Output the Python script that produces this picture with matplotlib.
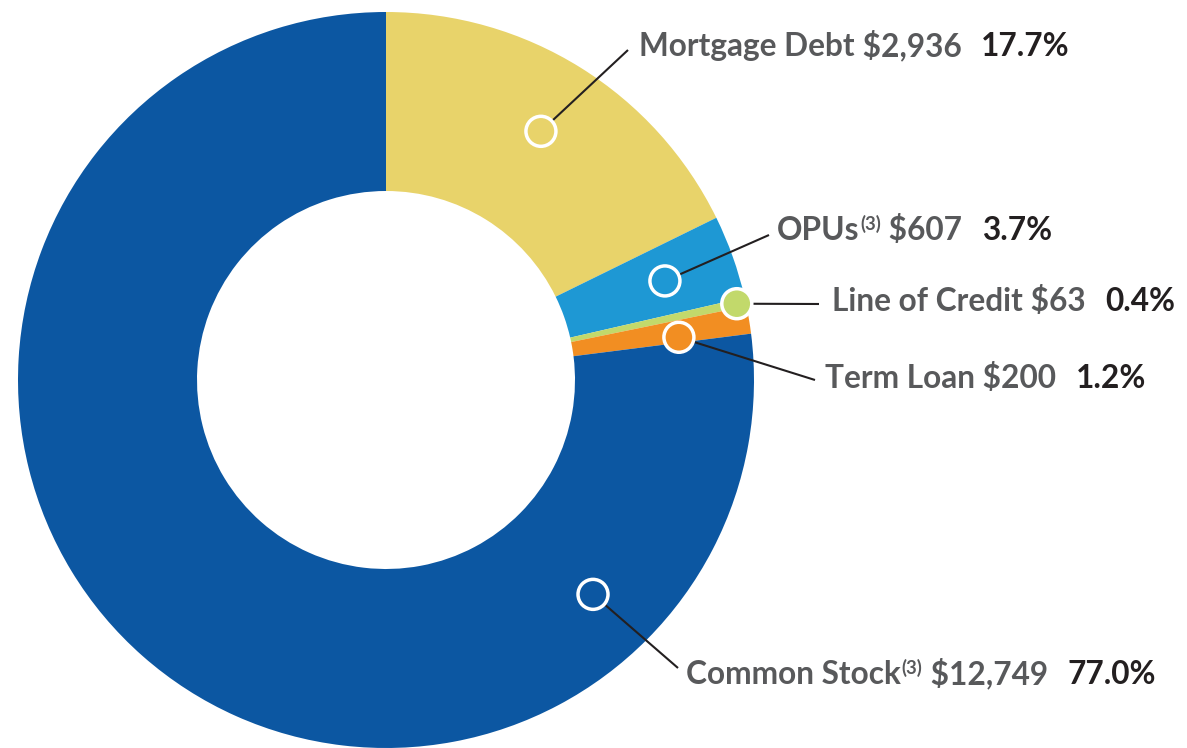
import numpy as np
import matplotlib
matplotlib.use("Agg")
import matplotlib.pyplot as plt
from matplotlib.patches import Circle

# ---- data ----
names = ["Mortgage Debt", "OPUs", "Line of Credit", "Term Loan", "Common Stock"]
sups = ["", "(3)", "", "", "(3)"]
amount_labels = ["$2,936", "$607", "$63", "$200", "$12,749"]
values = [2936, 607, 63, 200, 12749]
pct_labels = ["17.7%", "3.7%", "0.4%", "1.2%", "77.0%"]
colors = ["#E8D36A", "#1E98D4", "#C2D96B", "#F28E22", "#0C57A2"]

# ---- layout (pixel coordinates, y from top) ----
W, H = 1187, 748
CX, CY, R_OUT, R_IN = 386, 380, 368, 189
marker_r = [293, 296, 359, 296, 298]
marker_angle_override = [None, None, None, 8.3, -46.0]
line_ends = [(628, 50), (769, 235), (819, 304), (815, 380), (678, 668)]
text_x = [639, 777, 832, 825, 686]
text_base = [56, 240, 311, 388, 684]

GRAY = "#58595B"
DARK = "#231F20"
FAM = ["Lato", "DejaVu Sans"]
FS = 22.8

fig = plt.figure(figsize=(W / 100, H / 100), dpi=100)
ax = fig.add_axes([0, 0, 1, 1])

def Y(yp):
    return H - yp

wedges, _ = ax.pie(values, colors=colors, radius=R_OUT, center=(CX, Y(CY)),
                   startangle=90, counterclock=False,
                   wedgeprops=dict(width=R_OUT - R_IN, linewidth=0))
ax.set_xlim(0, W)
ax.set_ylim(0, H)
ax.set_aspect("equal")
ax.axis("off")

total = float(sum(values))
cum = np.cumsum([0] + values[:-1]) / total
mids = 90 - 360 * (cum + np.array(values) / total / 2)

for i in range(len(values)):
    ang = marker_angle_override[i] if marker_angle_override[i] is not None else mids[i]
    mx = CX + marker_r[i] * np.cos(np.radians(ang))
    my = Y(CY) + marker_r[i] * np.sin(np.radians(ang))
    ex, ey = line_ends[i]
    ax.plot([mx, ex], [my, Y(ey)], color=DARK, lw=1.5, solid_capstyle="butt", zorder=3)
    ax.add_patch(Circle((mx, my), 15, facecolor=colors[i], edgecolor="white",
                        lw=2.5, zorder=4))

fig.canvas.draw()
renderer = fig.canvas.get_renderer()

def put(x, yb, s, color, size, weight):
    t = ax.text(x, yb, s, color=color, fontsize=size, fontweight=weight,
                family=FAM, ha="left", va="baseline", zorder=5)
    bb = t.get_window_extent(renderer=renderer)
    return bb.width

for i in range(len(values)):
    x = text_x[i]
    yb = Y(text_base[i])
    x += put(x, yb, names[i], GRAY, FS, "bold")
    if sups[i]:
        x += 1
        x += put(x, yb + 10, sups[i], GRAY, FS * 0.58, "bold")
    x += put(x, yb, " " + amount_labels[i], GRAY, FS, "bold")
    x += 20
    put(x, yb, pct_labels[i], DARK, FS, "bold")

fig.savefig("out.png", dpi=100)
